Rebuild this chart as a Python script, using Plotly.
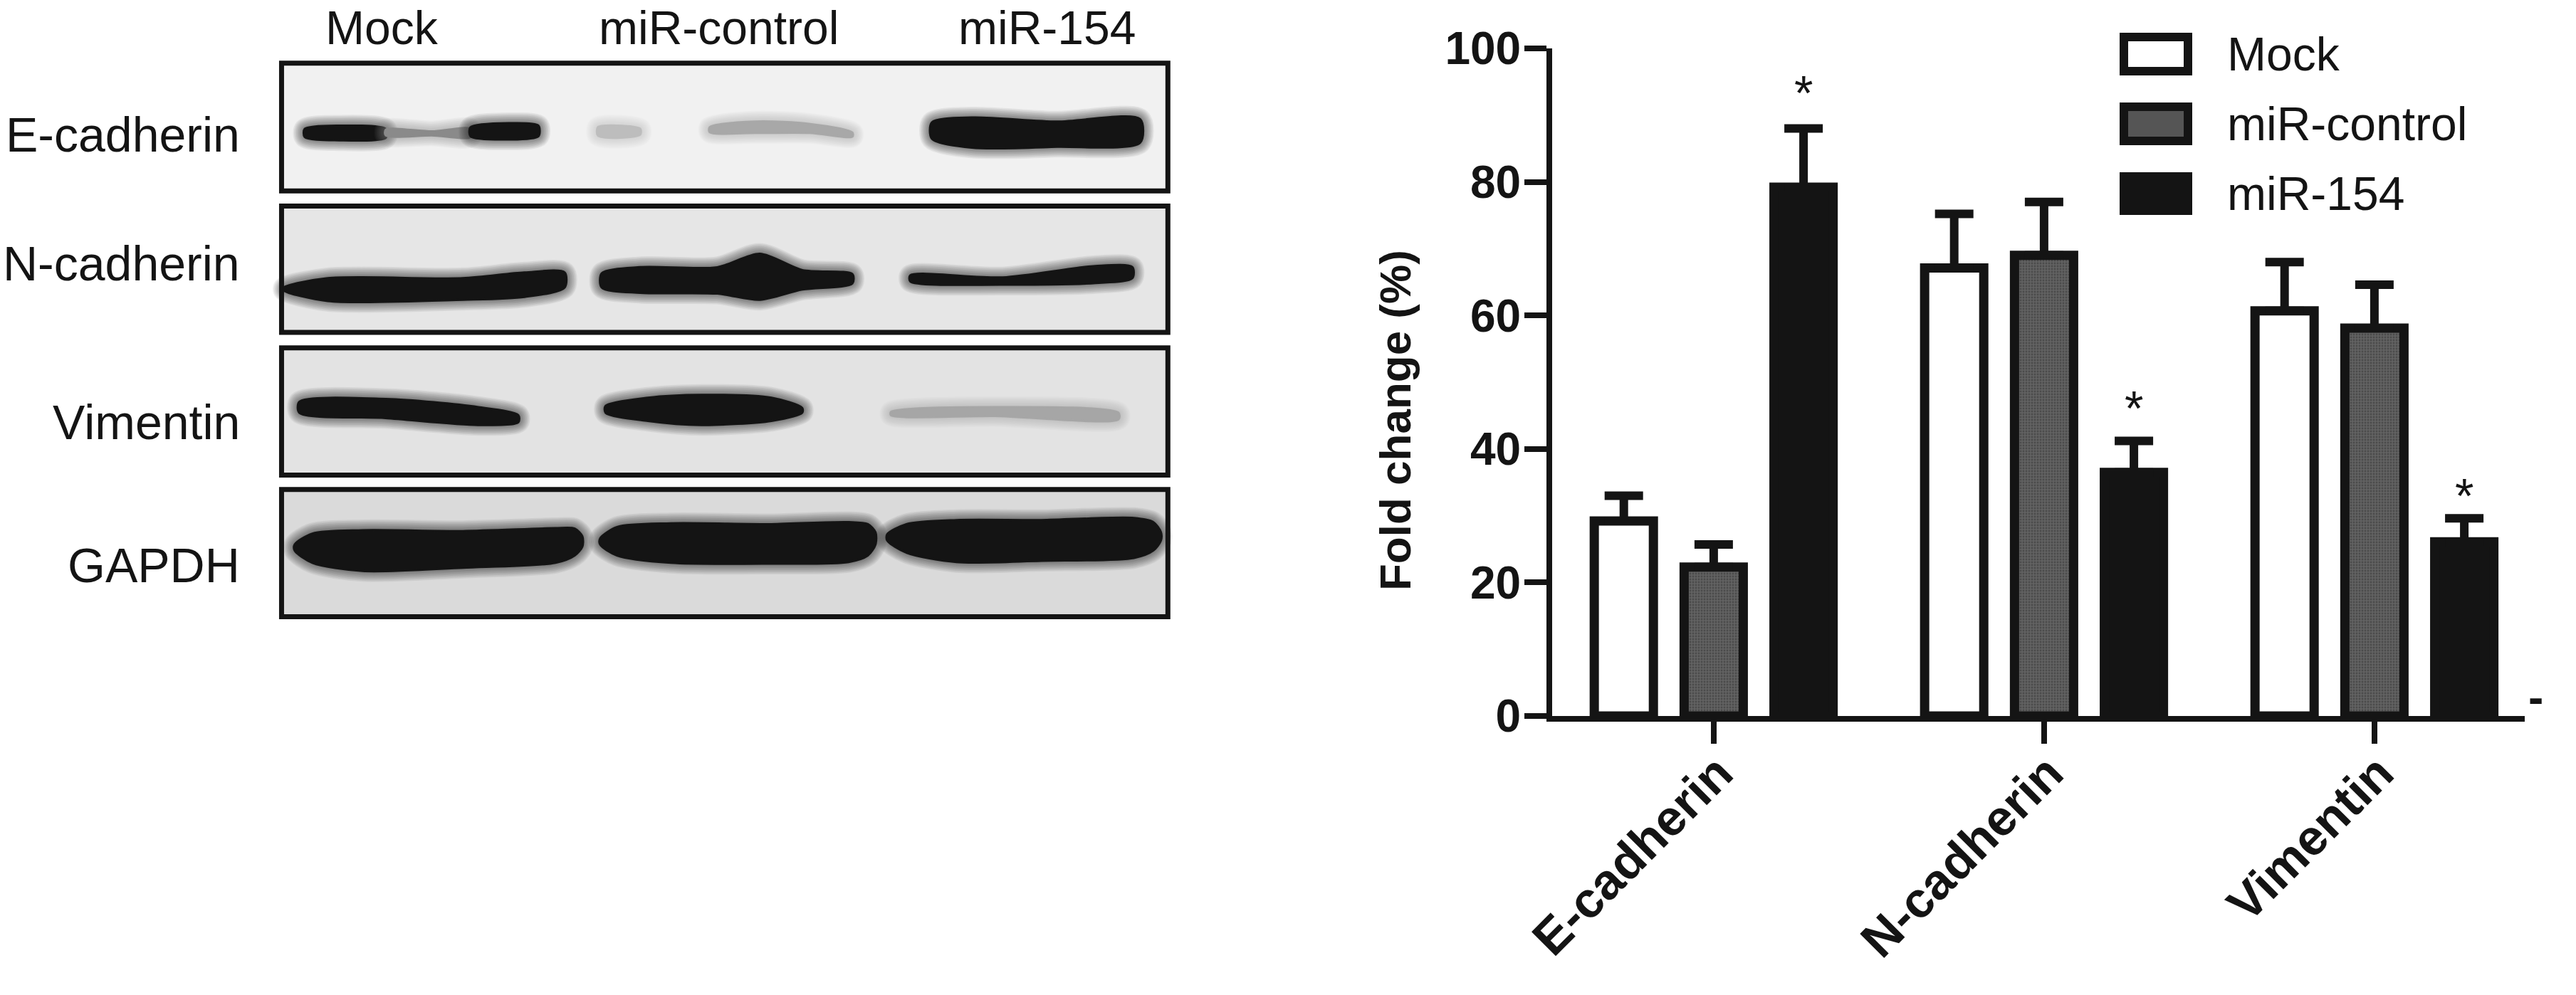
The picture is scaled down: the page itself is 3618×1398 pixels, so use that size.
import plotly.graph_objects as go

W, H = 3618, 1398
INK = '#141414'

# ---------- bar chart data ----------
targets = ['E-cadherin', 'N-cadherin', 'Vimentin']
groups = ['Mock', 'miR-control', 'miR-154']
mock = [29.2, 67.1, 60.7]
mir_control = [22.3, 69.0, 58.1]
mir_154 = [79.2, 36.5, 26.1]
mock_err = [3.8, 8.1, 7.3]
mir_control_err = [3.4, 8.0, 6.5]
mir_154_err = [8.8, 4.7, 3.5]
star_x = [0.272, 1.272, 2.272]
star_y = [93.4, 46.2, 33.0]
y_ticks = [0, 20, 40, 60, 80, 100]

# ---------- western blot, in blot axis units ----------
blot_rows = ['E-cadherin', 'N-cadherin', 'Vimentin', 'GAPDH']
row_label_y = [330, 645, 1035, 1385]
lane_label_x = [495, 932, 1357]
panel_top = [155, 505, 853, 1200]
panel_bottom = [468, 815, 1165, 1512]
panel_fill = ['#f1f1f1', '#e6e6e6', '#e3e3e3', '#dadada']

# each band: x positions, upper edge, lower edge, colour
bands = [
    # E-cadherin
    ([395, 440, 500], [316, 308, 316], [336, 344, 338], '#141414'),
    ([500, 560, 610], [318, 322, 316], [332, 332, 336], '#8a8a8a'),
    ([610, 660, 698], [312, 302, 308], [334, 342, 334], '#141414'),
    ([775, 800, 830], [312, 308, 316], [332, 338, 330], '#bdbdbd'),
    ([920, 980, 1050, 1105], [312, 298, 304, 325], [324, 326, 326, 335], '#a8a8a8'),
    ([1208, 1260, 1370, 1478], [300, 288, 298, 292], [340, 362, 360, 350], '#141414'),
    # N-cadherin
    ([368, 425, 600, 680, 732], [705, 682, 682, 668, 668], [712, 738, 735, 728, 705], '#141414'),
    ([780, 830, 930, 985, 1040, 1105], [670, 655, 655, 622, 662, 672], [705, 718, 720, 735, 710, 695], '#141414'),
    ([1180, 1300, 1420, 1468], [675, 680, 652, 655], [690, 698, 694, 682], '#141414'),
    # Vimentin
    ([388, 500, 620, 672], [985, 978, 998, 1018], [1012, 1025, 1042, 1035], '#141414'),
    ([785, 840, 910, 1000, 1040], [995, 975, 968, 975, 1000], [1012, 1032, 1042, 1032, 1012], '#141414'),
    ([1155, 1290, 1450], [1010, 998, 1012], [1018, 1020, 1028], '#a6a6a6'),
    # GAPDH
    ([382, 405, 470, 600, 720, 745, 755], [1335, 1308, 1300, 1302, 1295, 1296, 1315], [1350, 1380, 1400, 1392, 1380, 1362, 1340], '#141414'),
    ([778, 800, 870, 1000, 1100, 1125, 1135], [1320, 1292, 1283, 1285, 1280, 1285, 1305], [1335, 1362, 1380, 1382, 1378, 1362, 1335], '#141414'),
    ([1150, 1175, 1240, 1350, 1470, 1495, 1505], [1310, 1285, 1275, 1275, 1270, 1280, 1305], [1325, 1355, 1378, 1375, 1368, 1350, 1325], '#141414'),
]

# ---------- legend ----------
legend_fill = ['white', '#555555', INK]
legend_y = [76, 174, 272]

fig = go.Figure()

# blot bands: soft halo lines first, solid core on top
for bx, top, bottom, color in bands:
    ox = bx + bx[::-1] + bx[:1]
    oy = top + bottom[::-1] + top[:1]
    for width in [30, 27, 24, 21, 18, 15, 12, 9, 6, 4]:
        fig.add_trace(go.Scatter(x=ox, y=oy, xaxis='x2', yaxis='y2', mode='lines',
                                 line=dict(color=color, width=width, shape='spline', smoothing=0.8),
                                 opacity=0.06, showlegend=False, hoverinfo='skip'))
    fig.add_trace(go.Scatter(x=ox, y=oy, xaxis='x2', yaxis='y2', mode='lines',
                             line=dict(color=color, width=3, shape='spline', smoothing=0.8),
                             fill='toself', fillcolor=color, showlegend=False, hoverinfo='skip'))

# bars
series = [
    (mock, mock_err, 'white', None),
    (mir_control, mir_control_err, '#555555', dict(shape='.', bgcolor='#626262', fgcolor='#333333', size=4, solidity=0.4)),
    (mir_154, mir_154_err, INK, None),
]
for name, (vals, errs, fill, pattern) in zip(groups, series):
    fig.add_trace(go.Bar(
        x=[0, 1, 2], y=vals, name=name,
        marker=dict(color=fill, line=dict(color=INK, width=13), pattern=pattern),
        error_y=dict(type='data', array=errs, symmetric=False, arrayminus=[0, 0, 0],
                     color=INK, thickness=12, width=27),
        showlegend=False,
    ))

fig.update_layout(
    width=W, height=H, autosize=False,
    margin=dict(l=0, r=0, t=0, b=0, autoexpand=False),
    paper_bgcolor='white', plot_bgcolor='white',
    barmode='group', bargap=0.184, bargroupgap=0.342,
    font=dict(family='Liberation Sans', color=INK),
    xaxis=dict(
        domain=[2180 / W, 3546 / W], range=[-0.489, 2.455], automargin=False,
        tickmode='array', tickvals=[0, 1, 2], ticktext=targets, tickangle=-45,
        tickfont=dict(size=70, family='Liberation Sans', weight='bold'),
        ticklabelstandoff=-28, ticklabelshift=6,
        ticks='outside', ticklen=31, tickwidth=8, tickcolor=INK,
        showline=True, linecolor=INK, linewidth=8, showgrid=False, zeroline=False,
    ),
    yaxis=dict(
        domain=[1 - 1006 / H, 1 - 68 / H], range=[0, 100], automargin=False,
        tickmode='array', tickvals=y_ticks,
        tickfont=dict(size=64, family='Liberation Sans', weight='bold'),
        ticklabelstandoff=-8,
        ticks='outside', ticklen=31, tickwidth=8, tickcolor=INK,
        showline=True, linecolor=INK, linewidth=8, showgrid=False, zeroline=False,
    ),
    xaxis2=dict(domain=[0, 0.5], range=[0, 0.5 * W * 0.923], visible=False, anchor='y2', automargin=False),
    yaxis2=dict(domain=[0, 1], range=[H * 1.745, 0], visible=False, anchor='x2', automargin=False),
)

# blot panels
for top, bottom, fill in zip(panel_top, panel_bottom, panel_fill):
    fig.add_shape(type='rect', xref='x2', yref='y2', x0=365, x1=1514, y0=top, y1=bottom,
                  fillcolor=fill, line=dict(color='white', width=0), layer='below')
    fig.add_shape(type='rect', xref='x2', yref='y2', x0=365, x1=1514, y0=top, y1=bottom,
                  fillcolor='rgba(0,0,0,0)', line=dict(color=INK, width=7), layer='above')

for text, y in zip(blot_rows, row_label_y):
    fig.add_annotation(text=text, xref='x2', yref='y2', x=313, y=y, xanchor='right', yanchor='middle',
                       showarrow=False, font=dict(size=68))
for text, x in zip(groups, lane_label_x):
    fig.add_annotation(text=text, xref='x2', yref='y2', x=x, y=68, xanchor='center', yanchor='middle',
                       showarrow=False, font=dict(size=66))

# significance stars
for x, y in zip(star_x, star_y):
    fig.add_annotation(text='*', xref='x', yref='y', x=x, y=y, xanchor='center', yanchor='middle',
                       showarrow=False, font=dict(size=68))

# y title and the stray dash by the axis end
fig.add_annotation(text='<b>Fold change (%)</b>', xref='paper', yref='paper', x=1959 / W, y=1 - 591 / H,
                   xanchor='center', yanchor='middle', textangle=-90, showarrow=False, font=dict(size=62))
fig.add_annotation(text='<b>-</b>', xref='paper', yref='paper', x=3561 / W, y=1 - 980 / H,
                   xanchor='center', yanchor='middle', showarrow=False, font=dict(size=64))

# hand-built legend, the native swatches are too small here
for name, fill, y in zip(groups, legend_fill, legend_y):
    fig.add_shape(type='rect', xref='paper', yref='paper', x0=2983 / W, x1=3073 / W,
                  y0=1 - (y - 24) / H, y1=1 - (y + 24) / H,
                  fillcolor=fill, line=dict(color=INK, width=12))
    fig.add_annotation(text=name, xref='paper', yref='paper', x=3126 / W, y=1 - y / H,
                       xanchor='left', yanchor='middle', showarrow=False, font=dict(size=66))

# page body margin would push the figure 8px off
fig.write_html('out.html', config={'displayModeBar': False},
               post_script="document.body.style.margin='0'")
